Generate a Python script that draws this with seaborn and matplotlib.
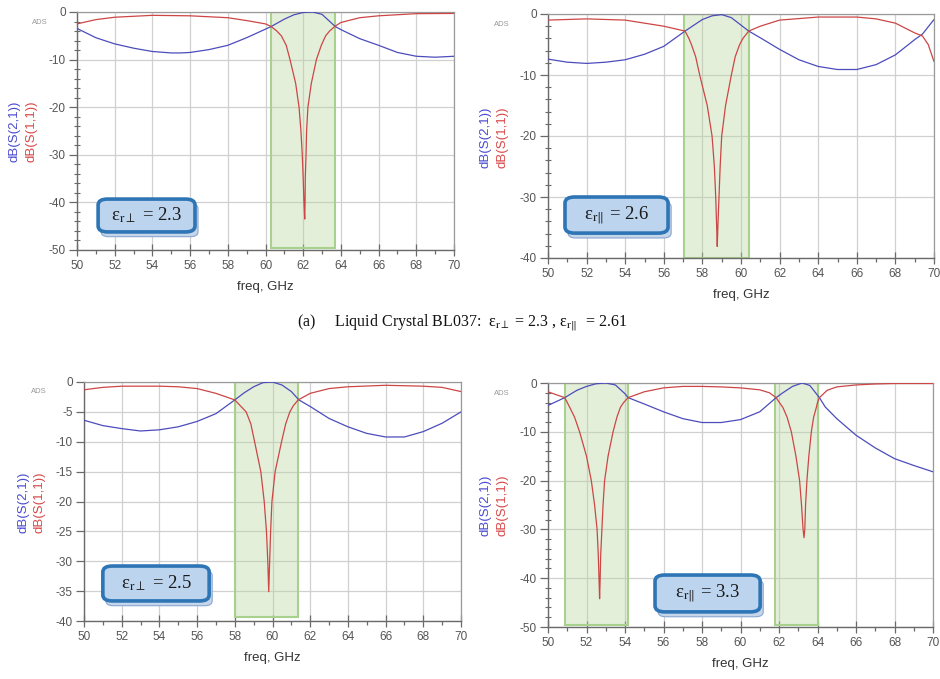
import numpy as np
import pandas as pd
import matplotlib
matplotlib.use("Agg")
import matplotlib.pyplot as plt
from matplotlib.patches import FancyBboxPatch, Rectangle
from matplotlib.ticker import MultipleLocator
import seaborn as sns

# ---------------- data ----------------
# Panel 1: eps_r_perp = 2.3
p1_s21_f = [50, 51, 52, 53, 54, 55, 55.5, 56, 57, 58, 59, 60, 60.3, 61, 61.5, 62, 62.5, 63, 63.7, 64, 65, 66, 67, 68, 69, 70]
p1_s21_v = [-3.45, -5.4, -6.7, -7.6, -8.3, -8.6, -8.6, -8.5, -7.9, -7.0, -5.4, -3.6, -3.05, -1.5, -0.6, -0.1, 0.0, -0.5, -3.05, -3.7, -5.6, -7.0, -8.5, -9.3, -9.5, -9.3]
p1_s11_f = [50, 51, 52, 54, 56, 58, 59, 60, 60.3, 60.6, 60.84, 61.1, 61.3, 61.6, 61.78, 61.88, 61.95, 62.0, 62.04, 62.08,
            62.1, 62.11, 62.15, 62.18, 62.25, 62.43, 62.7, 62.96, 63.19, 63.4, 63.67, 64, 65, 66, 68, 70]
p1_s11_v = [-2.5, -1.6, -1.1, -0.7, -0.8, -1.2, -1.8, -2.5, -3.05, -4.0, -5.0, -7.0, -10.0, -15.0, -20.0, -25.0, -30.0, -35.0, -40.0, -43.5,
            -40.0, -35.0, -30.0, -25.0, -20.0, -15.0, -10.0, -7.0, -5.0, -4.0, -3.05, -2.2, -1.2, -0.8, -0.35, -0.3]
p1_bands = [(60.3, 63.7)]

# Panel 2: eps_r_par = 2.6
p2_s21_f = [50, 51, 52, 53, 54, 55, 56, 57.1, 58, 58.5, 59, 59.5, 60.4, 61, 62, 63, 64, 65, 66, 67, 68, 69, 69.4, 70]
p2_s21_v = [-7.4, -7.9, -8.1, -7.9, -7.5, -6.6, -5.3, -2.8, -0.9, -0.3, -0.1, -0.6, -2.8, -3.9, -5.8, -7.5, -8.6, -9.1, -9.1, -8.3, -6.7, -4.2, -3.3, -0.9]
p2_s11_f = [50, 52, 54, 55, 56, 57.1, 57.3, 57.43, 57.65, 57.86, 58.25, 58.5, 58.62, 58.69, 58.74, 58.77,
            58.8, 58.86, 58.92, 59.0, 59.2, 59.5, 59.7, 59.93, 60.1, 60.4, 61, 62, 64, 66, 67, 68, 69, 69.4, 69.7, 70]
p2_s11_v = [-1.0, -0.8, -1.0, -1.5, -2.0, -2.8, -4.0, -5.0, -7.0, -10.0, -15.0, -20.0, -25.0, -30.0, -35.0, -38.1,
            -35.0, -30.0, -25.0, -20.0, -15.0, -10.0, -7.0, -5.0, -4.0, -2.8, -2.0, -1.0, -0.5, -0.5, -0.8, -1.5, -3.1, -3.6, -5.0, -7.8]
p2_bands = [(57.05, 60.4)]

# Panel 3: eps_r_perp = 2.5
p3_s21_f = [50, 51, 52, 53, 54, 55, 56, 57, 58, 58.5, 59, 59.5, 60, 60.5, 61, 61.4, 62, 63, 64, 65, 66, 67, 68, 69, 70]
p3_s21_v = [-6.4, -7.3, -7.8, -8.2, -8.0, -7.5, -6.6, -5.3, -3.0, -1.8, -0.8, -0.1, 0.0, -0.5, -1.6, -3.0, -4.1, -6.1, -7.5, -8.6, -9.2, -9.2, -8.3, -6.9, -5.0]
p3_s11_f = [50, 51, 52, 54, 55, 56, 57, 58, 58.3, 58.6, 58.85, 59.05, 59.38, 59.56, 59.68, 59.75, 59.8,
            59.85, 59.9, 59.97, 60.14, 60.48, 60.7, 60.92, 61.1, 61.36, 62, 63, 64, 66, 68, 69, 70]
p3_s11_v = [-1.3, -0.9, -0.7, -0.7, -0.8, -1.1, -1.9, -3.0, -4.0, -5.0, -7.0, -10.0, -15.0, -20.0, -25.0, -30.0, -35.1,
            -30.0, -25.0, -20.0, -15.0, -10.0, -7.0, -5.0, -4.0, -3.0, -1.9, -1.1, -0.8, -0.55, -0.7, -0.9, -1.6]
p3_bands = [(58.0, 61.36)]

# Panel 4: eps_r_par = 3.3
p4_s21_f = [50, 50.87, 51.5, 52, 52.5, 53, 53.5, 54, 54.16, 55, 56, 57, 58, 59, 60, 61, 61.85, 62.2, 62.7, 63.2, 63.6, 64.1, 64.4, 65, 66, 67, 68, 69, 70]
p4_s21_v = [-4.6, -3.0, -1.5, -0.7, -0.15, 0.0, -0.4, -2.2, -3.0, -4.3, -5.9, -7.3, -8.1, -8.1, -7.5, -5.9, -3.0, -2.0, -0.7, 0.0, -0.5, -3.0, -4.9, -7.3, -10.7, -13.3, -15.5, -16.9, -18.2]
p4_s11_f = [50, 50.5, 50.87, 51.0, 51.13, 51.38, 51.64, 52.0, 52.25, 52.42, 52.55, 52.61, 52.65, 52.68,
            52.71, 52.74, 52.8, 52.86, 52.94, 53.12, 53.38, 53.58, 53.76, 53.93, 54.16,
            55, 56, 57, 58, 59, 60, 61, 61.5,
            61.85, 62.02, 62.2, 62.42, 62.64, 62.88, 63.07, 63.17, 63.25, 63.3,
            63.34, 63.38, 63.45, 63.55, 63.68, 63.8, 63.94, 64.0, 64.1, 64.5, 65, 66, 67, 68, 70]
p4_s11_v = [-1.8, -2.5, -3.0, -4.0, -5.0, -7.0, -10.0, -15.0, -20.0, -25.0, -30.0, -35.0, -40.0, -44.2,
            -40.0, -35.0, -30.0, -25.0, -20.0, -15.0, -10.0, -7.0, -5.0, -4.0, -3.0,
            -1.8, -1.0, -0.7, -0.7, -0.8, -1.0, -1.4, -2.0,
            -3.0, -4.0, -5.0, -7.0, -10.0, -15.0, -20.0, -25.0, -30.0, -31.7,
            -30.0, -25.0, -20.0, -15.0, -10.0, -7.0, -5.0, -4.0, -3.0, -1.5, -0.8, -0.4, -0.2, -0.1, -0.1]
p4_bands = [(50.87, 54.16), (61.8, 64.05)]

labels = ["ε$_{\\mathrm{r}\\perp}$ = 2.3", "ε$_{\\mathrm{r}\\Vert}$ = 2.6",
          "ε$_{\\mathrm{r}\\perp}$ = 2.5", "ε$_{\\mathrm{r}\\Vert}$ = 3.3"]
caption = "(a)     Liquid Crystal BL037:  ε$_{\\mathrm{r}\\perp}$ = 2.3 , ε$_{\\mathrm{r}\\Vert}$  = 2.61"
x_ticks = [50, 52, 54, 56, 58, 60, 62, 64, 66, 68, 70]

# ---------------- layout ----------------
sns.set_theme(style="white")
plt.rcParams["font.family"] = ["Liberation Sans", "DejaVu Sans"]
plt.rcParams["mathtext.fontset"] = "stix"
plt.rcParams["axes.unicode_minus"] = False

W, H = 940, 679
fig = plt.figure(figsize=(W / 100, H / 100), dpi=100)
fig.patch.set_facecolor("white")


def px_axes(l, t, r, b):
    return [l / W, 1 - b / H, (r - l) / W, (b - t) / H]


panels = [
    dict(rect=px_axes(77, 12, 454, 250), s21=(p1_s21_f, p1_s21_v), s11=(p1_s11_f, p1_s11_v),
         bands=p1_bands, ylim=(-50, 0), ymaj=10, ymin=2, box=(0.056, 0.076, 0.313, 0.214),
         lab=(15, 31, 131), ads=(40, 22), band_bottom=-49.6),
    dict(rect=px_axes(548, 14, 934, 258), s21=(p2_s21_f, p2_s21_v), s11=(p2_s11_f, p2_s11_v),
         bands=p2_bands, ylim=(-40, 0), ymaj=10, ymin=2, box=(0.044, 0.102, 0.311, 0.25),
         lab=(485, 502, 137), ads=(502, 24), band_bottom=-40),
    dict(rect=px_axes(84, 382, 461, 621), s21=(p3_s21_f, p3_s21_v), s11=(p3_s11_f, p3_s11_v),
         bands=p3_bands, ylim=(-40, 0), ymaj=5, ymin=None, box=(0.050, 0.084, 0.332, 0.230),
         lab=(23, 39, 502), ads=(39, 392), band_bottom=-39.3),
    dict(rect=px_axes(548, 383, 933, 627), s21=(p4_s21_f, p4_s21_v), s11=(p4_s11_f, p4_s11_v),
         bands=p4_bands, ylim=(-50, 0), ymaj=10, ymin=2, box=(0.278, 0.062, 0.551, 0.213),
         lab=(485, 502, 505), ads=(502, 393), band_bottom=-49.6),
]

blue = "#4c4cbc"
red = "#cc4646"
spine_c = "#6a6a6a"
grid_c = "#d0d0d0"

for i, p in enumerate(panels):
    ax = fig.add_axes(p["rect"])
    df21 = pd.DataFrame({"freq": p["s21"][0], "dB": p["s21"][1]})
    df11 = pd.DataFrame({"freq": p["s11"][0], "dB": p["s11"][1]})

    # green shaded bands
    for (a, b) in p["bands"]:
        ax.add_patch(Rectangle((a, p["band_bottom"]), b - a, -p["band_bottom"],
                               facecolor=(0.72, 0.84, 0.62, 0.38), edgecolor="#a9d18e",
                               lw=1.5, zorder=1))

    sns.lineplot(data=df21, x="freq", y="dB", ax=ax, color=blue, lw=0.9, zorder=3)
    sns.lineplot(data=df11, x="freq", y="dB", ax=ax, color=red, lw=0.9, zorder=3)

    ax.set_xlim(50, 70)
    ax.set_ylim(*p["ylim"])
    ax.set_xticks(x_ticks)
    ax.xaxis.set_minor_locator(MultipleLocator(1))
    ax.yaxis.set_major_locator(MultipleLocator(p["ymaj"]))
    if p["ymin"]:
        ax.yaxis.set_minor_locator(MultipleLocator(p["ymin"]))
    ax.grid(True, which="major", color=grid_c, lw=0.9, zorder=0)
    ax.set_axisbelow(True)
    for s in ["top", "right"]:
        ax.spines[s].set_color("#9a9a9a")
        ax.spines[s].set_linewidth(0.9)
    for s in ["left", "bottom"]:
        ax.spines[s].set_color(spine_c)
        ax.spines[s].set_linewidth(1.0)
    ax.tick_params(axis="x", which="major", direction="inout", length=8, width=0.9,
                   color=spine_c, labelsize=8.5, labelcolor="#555555", pad=3,
                   bottom=True)
    ax.tick_params(axis="x", which="minor", direction="out", length=3, width=0.9,
                   color=spine_c, bottom=True)
    ax.tick_params(axis="y", which="major", direction="out", length=6, width=0.9,
                   color=spine_c, labelsize=8.5, labelcolor="#555555", pad=2, left=True)
    ax.tick_params(axis="y", which="minor", direction="inout", length=4, width=0.8,
                   color=spine_c, left=True)
    ax.set_ylabel("")
    ax.set_xlabel("freq, GHz", fontsize=9.5, color="#333333", labelpad=7)

    # y-labels (two coloured rotated texts)
    bx, rx, cy = p["lab"]
    fig.text(bx / W, 1 - cy / H, "dB(S(2,1))", rotation=90, color="#4a4ad0",
             fontsize=9.5, ha="center", va="center")
    fig.text(rx / W, 1 - cy / H, "dB(S(1,1))", rotation=90, color="#d84848",
             fontsize=9.5, ha="center", va="center")
    ax_x, ax_y = p["ads"]
    fig.text(ax_x / W, 1 - ax_y / H, "ADS", color="#9a9a9a", fontsize=5.5,
             ha="center", va="center")

    # annotation box with shadow
    x0, y0, x1, y1 = p["box"]
    sh = FancyBboxPatch((x0 + 0.008, y0 - 0.02), x1 - x0, y1 - y0,
                        boxstyle="round,pad=0,rounding_size=0.02",
                        transform=ax.transAxes, facecolor="#c5d5ea", edgecolor="#8aa6cf",
                        lw=0.8, zorder=5, clip_on=False)
    ax.add_patch(sh)
    bx_p = FancyBboxPatch((x0, y0), x1 - x0, y1 - y0,
                          boxstyle="round,pad=0,rounding_size=0.025",
                          transform=ax.transAxes, facecolor="#bcd4ee", edgecolor="#2e75b6",
                          lw=2.6, zorder=6, clip_on=False)
    ax.add_patch(bx_p)
    ax.text((x0 + x1) / 2, (y0 + y1) / 2, labels[i], transform=ax.transAxes,
            ha="center", va="center", fontsize=13.5, color="#1a1a1a", zorder=7,
            family=["Liberation Serif", "DejaVu Serif"])

fig.text(462 / W, 1 - 323 / H, caption, ha="center", va="center", fontsize=11.5,
         color="#111111", family=["Liberation Serif", "DejaVu Serif"])

fig.savefig("out.png", dpi=100, facecolor="white")
